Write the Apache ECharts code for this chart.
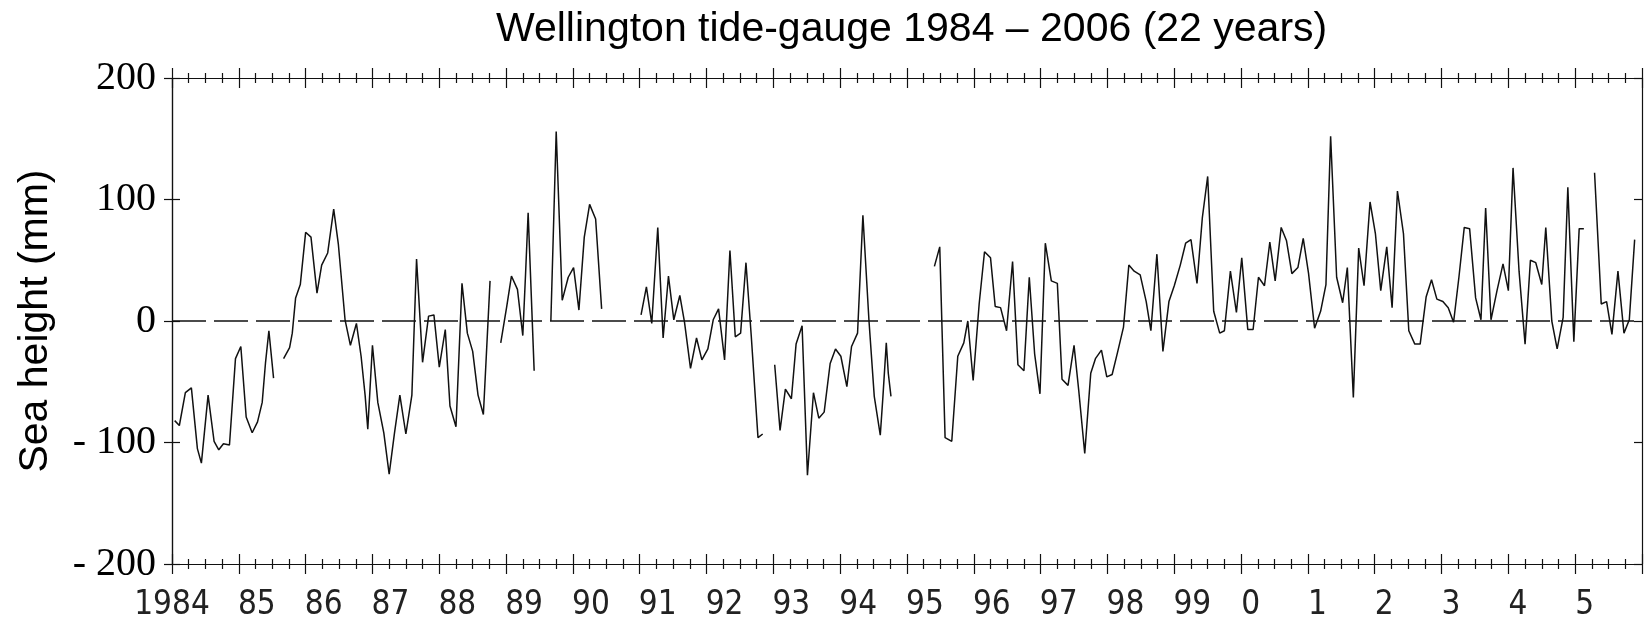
<!DOCTYPE html>
<html>
<head>
<meta charset="utf-8">
<script src="https://cdn.jsdelivr.net/npm/echarts@6/dist/echarts.min.js"></script>
<style>
  html, body { margin: 0; padding: 0; background: #fff; }
  #chart { width: 1644px; height: 620px; }
</style>
</head>
<body>
<div id="chart"></div>
<script>
// monthly sea height anomalies (mm), one pair of arrays per unbroken stretch
var seg1Years = [1984.04, 1984.11, 1984.20, 1984.29, 1984.38, 1984.44, 1984.54, 1984.63, 1984.70, 1984.77,
  1984.86, 1984.95, 1985.03, 1985.11, 1985.20, 1985.28, 1985.35, 1985.40, 1985.45, 1985.52];
var seg1Heights = [-82, -86, -59, -55, -105, -117, -61, -99, -106, -101,
  -102, -31, -21, -79, -92, -83, -67, -34, -8, -47];

var seg2Years = [1985.67, 1985.76, 1985.80, 1985.85, 1985.92, 1986.00, 1986.08, 1986.17, 1986.24, 1986.33,
  1986.42, 1986.49, 1986.59, 1986.67, 1986.76, 1986.83, 1986.89, 1986.93, 1987.00, 1987.08,
  1987.17, 1987.25, 1987.33, 1987.41, 1987.50, 1987.59, 1987.66, 1987.75, 1987.84, 1987.92,
  1988.00, 1988.09, 1988.16, 1988.25, 1988.34, 1988.42, 1988.50, 1988.58, 1988.66, 1988.76];
var seg2Heights = [-31, -22, -10, 19, 30, 73, 69, 23, 46, 56,
  92, 63, 1, -20, -2, -29, -61, -89, -20, -67,
  -92, -126, -92, -61, -93, -61, 51, -34, 4, 5,
  -38, -7, -70, -87, 31, -10, -25, -61, -77, 33];

var seg3Years = [1988.92, 1989.01, 1989.08, 1989.17, 1989.25, 1989.29, 1989.33, 1989.42];
var seg3Heights = [-18, 12, 37, 26, -12, 37, 89, -41];

var seg4Years = [1989.67, 1989.75, 1989.84, 1989.93, 1990.01, 1990.09, 1990.17, 1990.25, 1990.34, 1990.43];
var seg4Heights = [0, 156, 17, 36, 44, 9, 69, 96, 84, 10];

var seg5Years = [1991.02, 1991.10, 1991.18, 1991.27, 1991.35, 1991.43, 1991.51, 1991.60, 1991.67, 1991.76,
  1991.85, 1991.93, 1992.02, 1992.10, 1992.18, 1992.27, 1992.35, 1992.43, 1992.51, 1992.59,
  1992.67, 1992.77, 1992.84];
var seg5Heights = [5, 28, -2, 77, -14, 37, 1, 21, -1, -39,
  -14, -32, -23, 1, 10, -32, 58, -13, -10, 48,
  -13, -96, -93];

var seg6Years = [1993.02, 1993.10, 1993.18, 1993.27, 1993.34, 1993.43, 1993.51, 1993.60, 1993.68, 1993.76,
  1993.85, 1993.93, 1994.01, 1994.10, 1994.17, 1994.26, 1994.34, 1994.43, 1994.51, 1994.60,
  1994.64, 1994.69, 1994.72, 1994.76];
var seg6Heights = [-36, -90, -56, -64, -19, -4, -127, -59, -80, -75,
  -35, -23, -29, -54, -21, -10, 87, 1, -62, -94,
  -62, -18, -43, -62];

var seg7Years = [1995.41, 1995.49, 1995.57, 1995.67, 1995.76, 1995.85, 1995.91, 1995.99, 1996.08, 1996.16,
  1996.25, 1996.32, 1996.40, 1996.49, 1996.58, 1996.66, 1996.75, 1996.83, 1996.91, 1996.99,
  1997.07, 1997.16, 1997.25, 1997.32, 1997.41, 1997.50, 1997.57, 1997.66, 1997.75, 1997.82,
  1997.91, 1997.99, 1998.07, 1998.15, 1998.24, 1998.32, 1998.40, 1998.49, 1998.58, 1998.65,
  1998.74, 1998.83, 1998.92, 1999.00, 1999.09, 1999.17, 1999.25, 1999.34, 1999.42, 1999.50,
  1999.59, 1999.68, 1999.75, 1999.84, 1999.93, 2000.01, 2000.10, 2000.18, 2000.26, 2000.35,
  2000.43, 2000.51, 2000.60, 2000.68, 2000.76, 2000.85, 2000.93, 2001.01, 2001.10, 2001.19,
  2001.27, 2001.34, 2001.43, 2001.52, 2001.59, 2001.68, 2001.76, 2001.84, 2001.93, 2002.01,
  2002.09, 2002.18, 2002.26, 2002.34, 2002.43, 2002.51, 2002.60, 2002.68, 2002.77, 2002.85,
  2002.93, 2003.02, 2003.10, 2003.18, 2003.26, 2003.34, 2003.42, 2003.51, 2003.59, 2003.66,
  2003.74, 2003.83, 2003.92, 2004.00, 2004.07, 2004.16, 2004.25, 2004.33, 2004.41, 2004.50,
  2004.56, 2004.65, 2004.73, 2004.82, 2004.89, 2004.98, 2005.06, 2005.13];
var seg7Heights = [45, 61, -96, -99, -29, -18, 0, -49, 14, 57,
  52, 12, 11, -8, 49, -36, -41, 36, -27, -60,
  64, 33, 31, -48, -53, -20, -57, -109, -43, -31,
  -24, -46, -44, -26, -5, 46, 41, 38, 16, -8,
  55, -25, 16, 29, 46, 64, 67, 31, 85, 119,
  8, -10, -8, 41, 7, 52, -7, -7, 36, 29,
  65, 33, 77, 66, 39, 44, 68, 39, -6, 8,
  30, 152, 36, 15, 44, -63, 60, 29, 98, 72,
  25, 61, 11, 107, 72, -8, -19, -19, 20, 34,
  18, 16, 11, -1, 36, 77, 76, 19, 1, 93,
  1, 25, 47, 25, 126, 41, -19, 50, 48, 30,
  77, 0, -23, 3, 110, -17, 76, 76];

var seg8Years = [2005.29, 2005.39, 2005.47, 2005.55, 2005.64, 2005.73, 2005.81, 2005.89];
var seg8Heights = [122, 14, 16, -11, 41, -10, 1, 67];

var segments = [
  [seg1Years, seg1Heights], [seg2Years, seg2Heights], [seg3Years, seg3Heights], [seg4Years, seg4Heights],
  [seg5Years, seg5Heights], [seg6Years, seg6Heights], [seg7Years, seg7Heights], [seg8Years, seg8Heights]
];

var ink = '#111';
var tickStyle = { color: ink, width: 1.2 };

function yearLabel(v) {
  if (v === 1984) return '{c|1984}';
  if (v > 2005) return '';
  var s = String(v % 100);
  return s.length === 2 ? '{two|' + s + '}' : '{one|' + s + '}';
}

var labelFont = "'Liberation Sans Narrow', 'DejaVu Sans Condensed', 'DejaVu Sans', sans-serif";

function xAxisDef(position, inside, withLabels) {
  return {
    type: 'value', min: 1984, max: 2006, interval: 1, position: position,
    axisLine: { show: true, onZero: false, lineStyle: tickStyle },
    axisTick: { show: true, inside: inside, length: 10, lineStyle: tickStyle },
    minorTick: { show: true, splitNumber: 4, length: 5, lineStyle: tickStyle },
    splitLine: { show: false },
    axisLabel: withLabels ? {
      show: true, margin: 25, formatter: yearLabel,
      rich: {
        c: { fontFamily: labelFont, fontSize: 33, color: '#222', letterSpacing: -3 },
        two: { fontFamily: labelFont, fontSize: 33, color: '#222', padding: [0, 0, 0, 36] },
        one: { fontFamily: labelFont, fontSize: 33, color: '#222', padding: [0, 0, 0, 19] }
      }
    } : { show: false }
  };
}

function yAxisDef(position, inside, withLabels) {
  var ax = {
    type: 'value', min: -200, max: 200, interval: 100, position: position,
    axisLine: { show: true, onZero: false, lineStyle: tickStyle },
    axisTick: { show: true, inside: inside, length: 8, lineStyle: tickStyle },
    splitLine: { show: false },
    axisLabel: { show: false }
  };
  if (withLabels) {
    ax.axisLabel = {
      show: true, margin: 16, color: '#000',
      fontFamily: "'Liberation Serif', serif", fontSize: 40,
      formatter: function (v) { return v < 0 ? '- ' + Math.abs(v) : String(v); }
    };
    ax.name = 'Sea height (mm)';
    ax.nameLocation = 'middle';
    ax.nameGap = 116;
    ax.nameTextStyle = { fontFamily: "'Liberation Sans', Arial, sans-serif", fontSize: 41, color: '#000' };
  }
  return ax;
}

var series = segments.map(function (seg, i) {
  var s = {
    type: 'line', xAxisIndex: 0, yAxisIndex: 0,
    data: seg[0].map(function (t, k) { return [t, seg[1][k]]; }),
    showSymbol: false, symbol: 'none', silent: true,
    lineStyle: { color: ink, width: 1.5 }
  };
  if (i === 0) {
    s.markLine = {
      silent: true, symbol: 'none', label: { show: false },
      lineStyle: { color: ink, width: 1.6, type: [34, 8] },
      data: [{ yAxis: 0 }]
    };
  }
  return s;
});

var myChart = echarts.init(document.getElementById('chart'));
myChart.setOption({
  animation: false,
  backgroundColor: '#fff',
  title: {
    text: 'Wellington tide-gauge 1984 \u2013 2006 (22 years)',
    left: 496, top: 9, padding: 0,
    textStyle: { fontFamily: "'Liberation Sans', Arial, sans-serif", fontSize: 41, fontWeight: 'normal', color: '#000' }
  },
  grid: { left: 172, right: 2, top: 78, bottom: 56, containLabel: false, outerBoundsMode: 'none' },
  xAxis: [
    xAxisDef('bottom', false, true),
    xAxisDef('bottom', true, false),
    xAxisDef('top', false, false),
    xAxisDef('top', true, false)
  ],
  yAxis: [
    yAxisDef('left', false, true),
    yAxisDef('left', true, false),
    yAxisDef('right', true, false)
  ],
  series: series
});
</script>
</body>
</html>
